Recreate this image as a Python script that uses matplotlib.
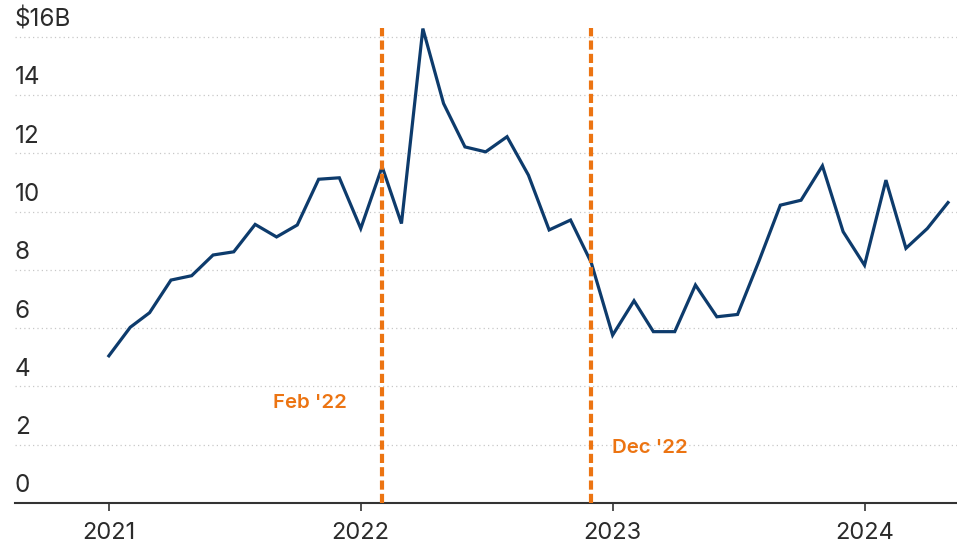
import matplotlib
matplotlib.use("Agg")
import matplotlib.pyplot as plt
import matplotlib.transforms as mtransforms
import pandas as pd

plt.rcParams['font.family'] = ['Inter', 'DejaVu Sans']

# monthly values, Jan 2021 .. May 2024, in $B
months = pd.date_range("2021-01-01", periods=41, freq="MS")
values = [5.05, 6.03, 6.53, 7.65, 7.8, 8.51, 8.62, 9.56, 9.13, 9.54,
          11.11, 11.16, 9.42, 11.54, 9.59, 16.28, 13.71, 12.22, 12.05, 12.57,
          11.25, 9.37, 9.71, 8.25, 5.76, 6.94, 5.88, 5.88, 7.48, 6.39,
          6.47, 8.3, 10.22, 10.39, 11.57, 9.31, 8.16, 11.08, 8.74, 9.42,
          10.31]

y_ticks = [0, 2, 4, 6, 8, 10, 12, 14, 16]
y_labels = ["0", "2", "4", "6", "8", "10", "12", "14", "$16B"]
year_ticks = pd.to_datetime(["2021-01-01", "2022-01-01", "2023-01-01", "2024-01-01"])
year_labels = ["2021", "2022", "2023", "2024"]

events = pd.to_datetime(["2022-02-01", "2022-12-01"])
event_labels = ["Feb '22", "Dec '22"]

navy = "#0d3b6c"
orange = "#ec7412"
text_col = "#2b2b2b"

fig = plt.figure(figsize=(9.57, 5.47), dpi=100)
ax = fig.add_axes([15 / 957, 44 / 547, 942 / 957, 475 / 547])

# gridlines
for y in y_ticks[1:]:
    ax.axhline(y, color="#c8c8c8", lw=0.9, ls=(0, (1, 2.5)), zorder=1)

ax.plot(months, values, color=navy, lw=2.3, zorder=3, solid_joinstyle="miter")

for d in events:
    ax.axvline(d, ymin=0, ymax=1, color=orange, lw=3.0, ls=(0, (2.2, 1.0)), zorder=4)

ax.set_ylim(0, 16.3)
ax.set_xlim(pd.Timestamp("2020-08-18"), pd.Timestamp("2024-05-14"))

# y labels sit above gridlines at left edge
trans = mtransforms.blended_transform_factory(ax.transAxes, ax.transData)
for y, lab in zip(y_ticks, y_labels):
    ax.annotate(lab, xy=(0, y), xycoords=trans, xytext=(0, 4), textcoords="offset points",
                ha="left", va="bottom", fontsize=17.5, color=text_col)
ax.set_yticks([])

ax.set_xticks(year_ticks)
ax.set_xticklabels(year_labels, fontsize=17, color=text_col)
ax.tick_params(axis="x", length=6, width=1.2, color="#333333", pad=8)

for s in ["top", "right", "left"]:
    ax.spines[s].set_visible(False)
ax.spines["bottom"].set_color("#333333")
ax.spines["bottom"].set_linewidth(1.5)

# event labels
ax.text(events[0] - pd.Timedelta(days=51), 3.43, event_labels[0], color=orange,
        fontsize=14.7, fontweight="semibold", ha="right", va="center")
ax.text(events[1] + pd.Timedelta(days=30), 1.89, event_labels[1], color=orange,
        fontsize=14.7, fontweight="semibold", ha="left", va="center")

fig.savefig("out.png", dpi=100)
